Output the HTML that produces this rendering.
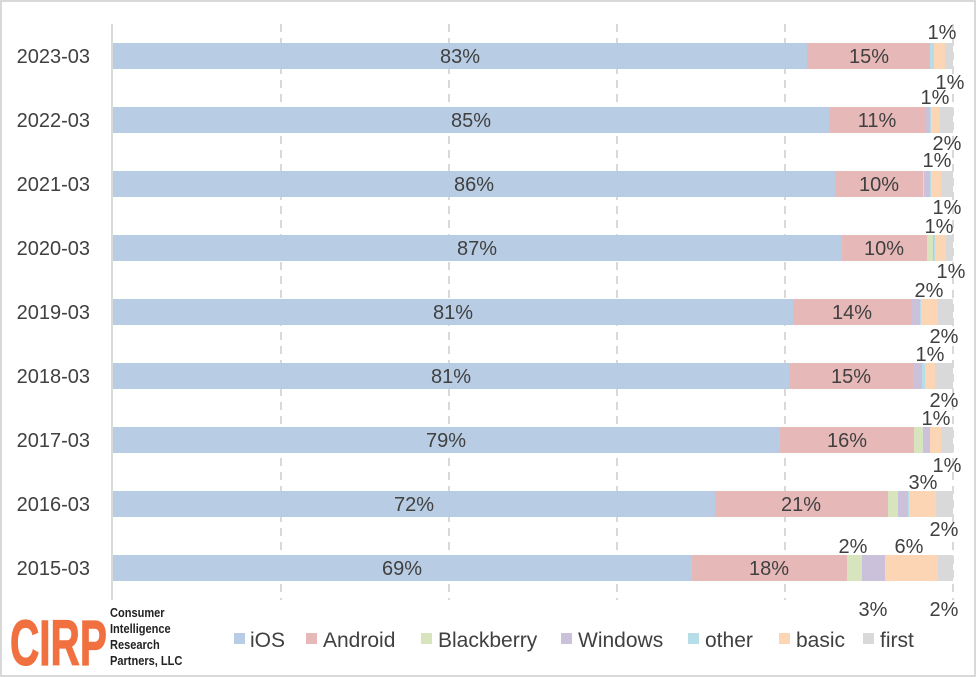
<!DOCTYPE html>
<html><head><meta charset="utf-8"><style>
html,body{margin:0;padding:0;background:#fff}
svg{display:block}
text{font-family:"Liberation Sans",sans-serif;fill:#404040}
</style></head><body>
<svg width="977" height="677" viewBox="0 0 977 677" xmlns="http://www.w3.org/2000/svg">
<rect x="1" y="1" width="974" height="675" fill="#fff" stroke="#d9d9d9" stroke-width="2"/>
<g stroke="#d9d9d9" stroke-width="2" stroke-dasharray="8,6">
<line x1="281" y1="24" x2="281" y2="600"/><line x1="449" y1="24" x2="449" y2="600"/>
<line x1="617" y1="24" x2="617" y2="600"/><line x1="785" y1="24" x2="785" y2="600"/>
<line x1="953" y1="24" x2="953" y2="600"/>
</g>
<line x1="112" y1="24" x2="112" y2="600" stroke="#d9d9d9" stroke-width="2"/>
<g id="bars"></g>
<g font-size="20" text-anchor="end">
<text x="90" y="63">2023-03</text><text x="90" y="127">2022-03</text><text x="90" y="191">2021-03</text>
<text x="90" y="255">2020-03</text><text x="90" y="319">2019-03</text><text x="90" y="383">2018-03</text>
<text x="90" y="447">2017-03</text><text x="90" y="511">2016-03</text><text x="90" y="575">2015-03</text>
</g>
<g font-size="20" text-anchor="middle">
<text x="460" y="63">83%</text><text x="869" y="63">15%</text>
<text x="471" y="127">85%</text><text x="877" y="127">11%</text>
<text x="474" y="191">86%</text><text x="879" y="191">10%</text>
<text x="477" y="255">87%</text><text x="884" y="255">10%</text>
<text x="453" y="319">81%</text><text x="852" y="319">14%</text>
<text x="451" y="383">81%</text><text x="851" y="383">15%</text>
<text x="446" y="447">79%</text><text x="847" y="447">16%</text>
<text x="414" y="511">72%</text><text x="801" y="511">21%</text>
<text x="402" y="575">69%</text><text x="769" y="575">18%</text>
<text x="942" y="39">1%</text>
<text x="950" y="89">1%</text><text x="935" y="104">1%</text>
<text x="947" y="150">2%</text><text x="937" y="167">1%</text>
<text x="947" y="214">1%</text><text x="939" y="233">1%</text>
<text x="951" y="278">1%</text><text x="929" y="297">2%</text>
<text x="944" y="343">2%</text><text x="930" y="361">1%</text>
<text x="944" y="407">2%</text><text x="936" y="425">1%</text>
<text x="947" y="472">1%</text><text x="923" y="489">3%</text>
<text x="944" y="536">2%</text><text x="853" y="553">2%</text><text x="909" y="553">6%</text>
<text x="873" y="616">3%</text><text x="944" y="616">2%</text>
</g>
<g font-size="21">
<rect x="234" y="633" width="11" height="11" fill="#b8cce4"/><text x="250" y="647">iOS</text>
<rect x="306" y="633" width="11" height="11" fill="#e6b9b8"/><text x="323" y="647">Android</text>
<rect x="421" y="633" width="11" height="11" fill="#d7e4bd"/><text x="438" y="647">Blackberry</text>
<rect x="561" y="633" width="11" height="11" fill="#ccc1da"/><text x="578" y="647">Windows</text>
<rect x="688" y="633" width="11" height="11" fill="#b7dee8"/><text x="705" y="647">other</text>
<rect x="779" y="633" width="11" height="11" fill="#fcd5b5"/><text x="796" y="647">basic</text>
<rect x="863" y="633" width="11" height="11" fill="#d9d9d9"/><text x="880" y="647">first</text>
</g>
<text x="10" y="665" font-size="78" font-weight="bold" style="fill:#f07040;stroke:#f07040;stroke-width:1.5" transform="translate(10,665) scale(0.52,0.82) translate(-10,-665)" font-family="Liberation Serif">CIRP</text>
<g font-size="13" font-weight="bold" transform="translate(110,0) scale(0.85,1) translate(-110,0)">
<text x="110" y="617" style="fill:#222">Consumer</text><text x="110" y="633" style="fill:#222">Intelligence</text>
<text x="110" y="649" style="fill:#222">Research</text><text x="110" y="665" style="fill:#222">Partners, LLC</text>
</g>
</svg>
<script>
var C={i:"#b8cce4",a:"#e6b9b8",b:"#d7e4bd",w:"#ccc1da",o:"#b7dee8",s:"#fcd5b5",f:"#d9d9d9"};
var R=[
[["i",807],["a",930],["o",934],["s",945],["f",953]],
[["i",829],["a",925],["w",930],["o",931],["s",940],["f",953]],
[["i",835],["a",923],["b",924],["w",930],["o",931],["s",941],["f",953]],
[["i",842],["a",927],["b",933],["w",934],["o",935],["s",946],["f",953]],
[["i",793],["a",912],["w",920],["o",921],["s",938],["f",953]],
[["i",790],["a",913],["w",922],["o",925],["s",935],["f",953]],
[["i",780],["a",914],["b",923],["w",930],["s",941],["f",953]],
[["i",715],["a",888],["b",898],["w",908],["o",909],["s",936],["f",953]],
[["i",692],["a",847],["b",862],["w",885],["s",938],["f",953]]];
var g=document.getElementById("bars"),s="";
R.forEach(function(r,k){var x=113,y=43+64*k;r.forEach(function(p){s+='<rect x="'+x+'" y="'+y+'" width="'+(p[1]-x)+'" height="26" fill="'+C[p[0]]+'"/>';x=p[1];});});
g.innerHTML=s;
</script>
</body></html>
